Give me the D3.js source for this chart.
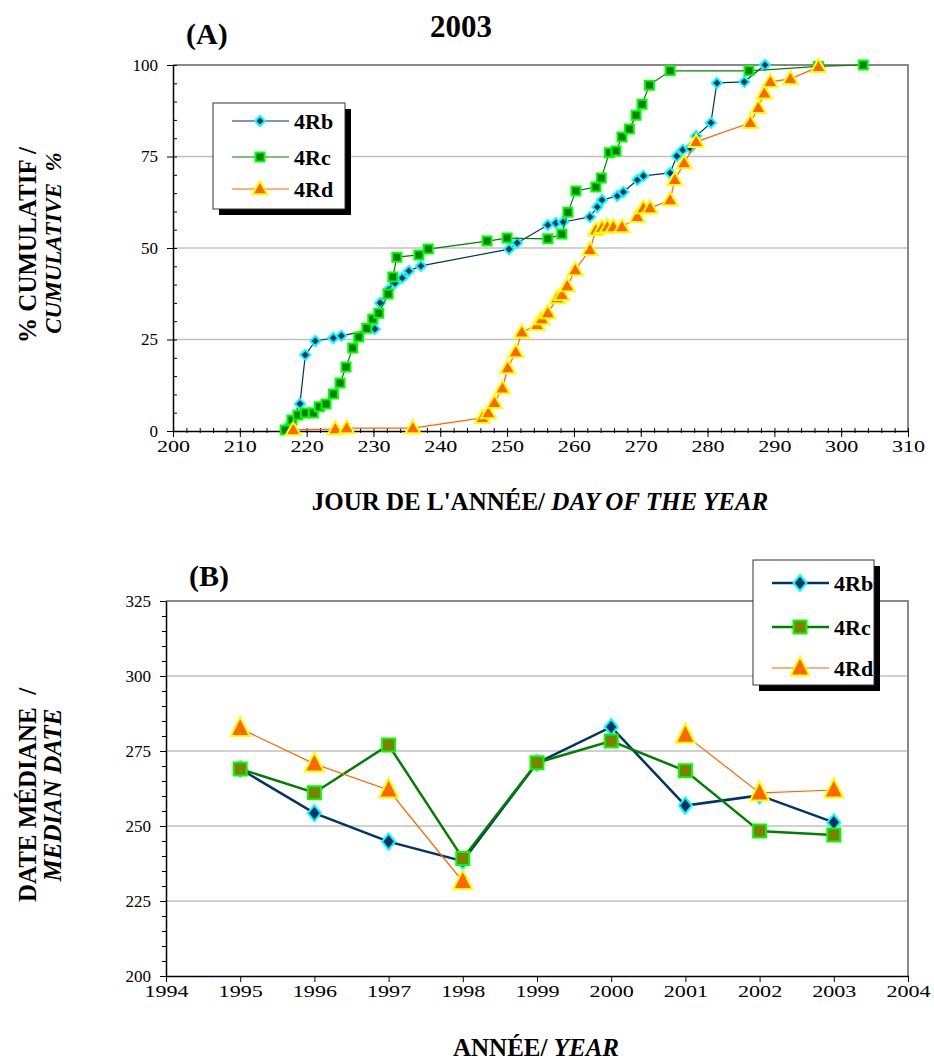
<!DOCTYPE html>
<html>
<head>
<meta charset="utf-8">
<script src="https://cdn.jsdelivr.net/npm/d3@7"></script>
<style>
  body { margin: 0; background: #fff; }
  svg text { font-family: "Liberation Serif", "Times New Roman", serif; }
</style>
</head>
<body>
<div id="chart"></div>
<script>
// panel A : cumulative % by day of year, 2003
var dayRb = [217.1, 219.0, 219.8, 221.3, 224.0, 225.2, 230.2, 231.0, 232.2, 233.2, 234.3, 235.3, 237.1,
  250.3, 251.5, 256.1, 257.3, 258.4, 262.4, 263.5, 264.2, 266.5, 267.4, 269.5, 270.4, 274.4, 275.4,
  276.3, 277.4, 278.3, 280.5, 281.4, 285.5, 288.6];
var pctRb = [1.1, 7.4, 20.8, 24.6, 25.4, 26.0, 27.9, 35.0, 38.5, 40.4, 41.8, 43.7, 45.1,
  49.7, 51.4, 56.3, 56.8, 57.1, 58.5, 61.2, 63.1, 64.2, 65.3, 68.6, 69.7, 70.5, 75.1,
  76.8, 77.3, 80.6, 84.2, 95.1, 95.4, 100];

var dayRc = [216.8, 217.8, 218.7, 219.8, 221.0, 221.9, 222.9, 224.0, 225.0, 225.9, 226.9, 227.8, 229.0,
  229.9, 230.8, 232.2, 232.9, 233.5, 236.8, 238.2, 247.0, 250.0, 256.1, 258.2, 259.1, 260.3, 263.3,
  264.1, 265.3, 266.3, 267.2, 268.3, 269.3, 270.2, 271.3, 274.4, 286.2, 296.6, 303.3];
var pctRc = [0.3, 3.0, 4.4, 4.9, 4.9, 6.6, 7.4, 10.1, 13.1, 17.5, 22.7, 25.7, 28.1,
  30.6, 32.2, 37.4, 42.1, 47.5, 48.1, 49.7, 51.9, 52.7, 52.5, 53.8, 59.8, 65.6, 66.7,
  69.1, 76.0, 76.5, 80.3, 82.5, 86.3, 89.3, 94.5, 98.4, 98.4, 99.6, 100];

var dayRd = [218.0, 224.3, 226.0, 235.9, 246.3, 247.2, 248.1, 249.3, 250.1, 251.3, 252.2, 254.5, 255.2,
  256.1, 257.5, 258.2, 259.0, 260.2, 262.4, 263.3, 264.2, 265.0, 265.9, 267.2, 269.5, 270.4, 271.4,
  274.4, 275.1, 276.5, 278.3, 286.4, 287.6, 288.5, 289.4, 292.4, 296.6];
var pctRd = [0.3, 0.5, 0.8, 0.8, 3.6, 4.9, 7.7, 11.7, 17.2, 21.6, 27.0, 29.0, 30.6,
  32.2, 36.3, 37.2, 39.6, 44.0, 49.5, 54.9, 55.5, 55.7, 55.7, 55.7, 58.5, 60.9, 60.9,
  63.1, 68.6, 73.2, 79.0, 84.2, 88.3, 92.3, 95.4, 96.2, 99.5];

var dayTicks = [200, 210, 220, 230, 240, 250, 260, 270, 280, 290, 300, 310];
var pctTicks = [0, 25, 50, 75, 100];

// panel B : median date per year
var years = [1995, 1996, 1997, 1998, 1999, 2000, 2001, 2002, 2003];
var medRb = [269, 254.3, 244.8, 238.3, 271, 283, 256.8, 260.2, 251.2];
var medRc = [269, 261.1, 277, 239.2, 271.1, 278.3, 268.4, 248.3, 247];
var medRd = [282.5, 270.7, 262, 231.5, null, null, 280.3, 261, 262];

var yearTicks = [1994, 1995, 1996, 1997, 1998, 1999, 2000, 2001, 2002, 2003, 2004];
var medTicks = [200, 225, 250, 275, 300, 325];

var seriesNames = ["4Rb", "4Rc", "4Rd"];

var serif = "'Liberation Serif', 'Times New Roman', serif";

var svg = d3.select("#chart").append("svg")
    .attr("width", 934)
    .attr("height", 1062)
    .attr("font-family", serif);

// custom diamond so width and height can differ
function diamond(w, h) {
    return {
        draw: function (ctx) {
            ctx.moveTo(0, -h); ctx.lineTo(w, 0); ctx.lineTo(0, h); ctx.lineTo(-w, 0); ctx.closePath();
        }
    };
}
function square(s) {
    return { draw: function (ctx) { ctx.rect(-s, -s, 2 * s, 2 * s); } };
}
function triangle(w, h) {
    return {
        draw: function (ctx) {
            ctx.moveTo(0, -h * 0.6); ctx.lineTo(w, h * 0.4); ctx.lineTo(-w, h * 0.4); ctx.closePath();
        }
    };
}

function drawSeries(g, xs, ys, x, y, line, mark) {
    var pts = xs.map(function (d, i) { return { x: d, y: ys[i] }; });
    var gen = d3.line()
        .defined(function (d) { return d.y != null; })
        .x(function (d) { return x(d.x); })
        .y(function (d) { return y(d.y); });
    g.append("path").datum(pts)
        .attr("fill", "none")
        .attr("stroke", line.color)
        .attr("stroke-width", line.width)
        .attr("d", gen);
    g.selectAll(null).data(pts.filter(function (d) { return d.y != null; }))
        .enter().append("path")
        .attr("transform", function (d) { return "translate(" + x(d.x) + "," + y(d.y) + ")"; })
        .attr("d", d3.symbol().type(mark.type))
        .attr("fill", mark.fill)
        .attr("stroke", mark.stroke)
        .attr("stroke-width", 2);
}

function drawLegend(g, x0, y0, w, h, rows, styles) {
    g.append("rect").attr("x", x0 + 6).attr("y", y0 + 6).attr("width", w).attr("height", h).attr("fill", "#000");
    g.append("rect").attr("x", x0).attr("y", y0).attr("width", w).attr("height", h)
        .attr("fill", "#fff").attr("stroke", "#333").attr("stroke-width", 1);
    rows.forEach(function (ry, i) {
        var s = styles[i];
        g.append("line").attr("x1", x0 + 19).attr("x2", x0 + 76).attr("y1", y0 + ry).attr("y2", y0 + ry)
            .attr("stroke", s.line.color).attr("stroke-width", s.line.width);
        g.append("path").attr("transform", "translate(" + (x0 + 47) + "," + (y0 + ry) + ")")
            .attr("d", d3.symbol().type(s.mark.type))
            .attr("fill", s.mark.fill).attr("stroke", s.mark.stroke).attr("stroke-width", 2);
        g.append("text").attr("x", x0 + 81).attr("y", y0 + ry + 8)
            .attr("font-size", 22).attr("font-weight", "bold").text(seriesNames[i]);
    });
}

function styleAxis(a, wide) {
    a.attr("font-family", serif);
    a.selectAll("text").attr("font-size", 17).attr("fill", "#000").attr("font-family", serif);
    if (wide) a.selectAll("text").attr("transform", "scale(1.3,1)");
    a.select(".domain").attr("stroke-width", 1.5);
}

// ---------------- panel A ----------------
var xA = d3.scaleLinear().domain([200, 310]).range([173, 908]);
var yA = d3.scaleLinear().domain([0, 100]).range([431, 65]);

var gA = svg.append("g");

// grid + frame
gA.selectAll(null).data([25, 50, 75]).enter().append("line")
    .attr("x1", xA(200)).attr("x2", xA(310))
    .attr("y1", function (d) { return yA(d); }).attr("y2", function (d) { return yA(d); })
    .attr("stroke", "#c0c0c0").attr("stroke-width", 1.5);
gA.append("path")
    .attr("d", "M" + xA(200) + "," + yA(100) + "H" + xA(310) + "V" + yA(0))
    .attr("fill", "none").attr("stroke", "#888").attr("stroke-width", 2);

// minor ticks
gA.append("g").attr("transform", "translate(" + xA(200) + ",0)")
    .call(d3.axisRight(yA).tickValues(d3.range(0, 101, 5)).tickSize(4).tickFormat(""))
    .call(function (g) { g.select(".domain").remove(); });
gA.append("g").attr("transform", "translate(0," + yA(0) + ")")
    .call(d3.axisBottom(xA).tickValues(d3.range(200, 311, 2)).tickSize(2).tickFormat(""))
    .call(function (g) { g.select(".domain").remove(); });
gA.append("g").attr("transform", "translate(0," + yA(0) + ")")
    .call(d3.axisTop(xA).tickValues(d3.range(200, 311, 2)).tickSize(3).tickFormat(""))
    .call(function (g) { g.select(".domain").remove(); });

// main axes
var axAx = gA.append("g").attr("transform", "translate(0," + yA(0) + ")")
    .call(d3.axisBottom(xA).tickValues(dayTicks).tickSize(6).tickSizeOuter(0).tickPadding(3));
var axAy = gA.append("g").attr("transform", "translate(" + xA(200) + ",0)")
    .call(d3.axisLeft(yA).tickValues(pctTicks).tickSize(6).tickSizeOuter(0).tickPadding(9));
styleAxis(axAx, true);
styleAxis(axAy, false);

var stylesA = [
    { line: { color: "#003366", width: 1.2 }, mark: { type: diamond(5, 5), fill: "#003366", stroke: "#00ffff" } },
    { line: { color: "#008000", width: 1.2 }, mark: { type: square(4.5), fill: "#008000", stroke: "#00ff00" } },
    { line: { color: "#ff6600", width: 1.2 }, mark: { type: triangle(7.5, 13), fill: "#ff6600", stroke: "#ffff00" } }
];
drawSeries(gA, dayRb, pctRb, xA, yA, stylesA[0].line, stylesA[0].mark);
drawSeries(gA, dayRc, pctRc, xA, yA, stylesA[1].line, stylesA[1].mark);
drawSeries(gA, dayRd, pctRd, xA, yA, stylesA[2].line, stylesA[2].mark);

drawLegend(gA, 213, 103, 132, 106, [18, 54, 86], stylesA);

svg.append("text").attr("x", 461).attr("y", 37).attr("text-anchor", "middle")
    .attr("font-size", 31).attr("font-weight", "bold").text("2003");
svg.append("text").attr("x", 186).attr("y", 44)
    .attr("font-size", 30).attr("font-weight", "bold").text("(A)");

var xlA = svg.append("text").attr("x", 540).attr("y", 510).attr("text-anchor", "middle")
    .attr("font-size", 25).attr("font-weight", "bold");
xlA.append("tspan").text("JOUR DE L'ANNÉE/ ");
xlA.append("tspan").attr("font-style", "italic").text("DAY OF THE YEAR");

var ylA = svg.append("g").attr("transform", "translate(0,245) rotate(-90)");
ylA.append("text").attr("x", 0).attr("y", 36).attr("text-anchor", "middle")
    .attr("font-size", 25).attr("font-weight", "bold").text("% CUMULATIF /");
ylA.append("text").attr("x", 2).attr("y", 61).attr("text-anchor", "middle")
    .attr("font-size", 23).attr("font-weight", "bold").attr("font-style", "italic")
    .attr("xml:space", "preserve").text("CUMULATIVE  %");

// ---------------- panel B ----------------
var xB = d3.scaleLinear().domain([1994, 2004]).range([166, 908]);
var yB = d3.scaleLinear().domain([200, 325]).range([976, 601]);

var gB = svg.append("g");

gB.selectAll(null).data([225, 250, 275, 300]).enter().append("line")
    .attr("x1", xB(1994)).attr("x2", xB(2004))
    .attr("y1", function (d) { return yB(d); }).attr("y2", function (d) { return yB(d); })
    .attr("stroke", "#c0c0c0").attr("stroke-width", 1.5);
gB.append("path")
    .attr("d", "M" + xB(1994) + "," + yB(325) + "H" + xB(2004) + "V" + yB(200))
    .attr("fill", "none").attr("stroke", "#888").attr("stroke-width", 2);

gB.append("g").attr("transform", "translate(" + xB(1994) + ",0)")
    .call(d3.axisLeft(yB).tickValues(d3.range(200, 326, 5)).tickSize(4).tickFormat(""))
    .call(function (g) { g.select(".domain").remove(); });

var axBx = gB.append("g").attr("transform", "translate(0," + yB(200) + ")")
    .call(d3.axisBottom(xB).tickValues(yearTicks).tickSize(6).tickSizeOuter(0).tickPadding(3)
        .tickFormat(d3.format("d")));
var axBy = gB.append("g").attr("transform", "translate(" + xB(1994) + ",0)")
    .call(d3.axisLeft(yB).tickValues(medTicks).tickSize(6).tickSizeOuter(0).tickPadding(9));
styleAxis(axBx, true);
styleAxis(axBy, false);

var stylesB = [
    { line: { color: "#003366", width: 2.5 }, mark: { type: diamond(6.5, 8), fill: "#003366", stroke: "#00ffff" } },
    { line: { color: "#008000", width: 2.5 }, mark: { type: square(6.5), fill: "#808000", stroke: "#00ff00" } },
    { line: { color: "#ff6600", width: 1.2 }, mark: { type: triangle(9.5, 19), fill: "#ff6600", stroke: "#ffff00" } }
];
drawSeries(gB, years, medRb, xB, yB, stylesB[0].line, stylesB[0].mark);
drawSeries(gB, years, medRc, xB, yB, stylesB[1].line, stylesB[1].mark);
drawSeries(gB, years, medRd, xB, yB, stylesB[2].line, stylesB[2].mark);

drawLegend(gB, 753, 560, 121, 125, [23, 67, 108], stylesB);

svg.append("text").attr("x", 189).attr("y", 586)
    .attr("font-size", 30).attr("font-weight", "bold").text("(B)");

var xlB = svg.append("text").attr("x", 536).attr("y", 1056).attr("text-anchor", "middle")
    .attr("font-size", 25).attr("font-weight", "bold");
xlB.append("tspan").text("ANNÉE/ ");
xlB.append("tspan").attr("font-style", "italic").text("YEAR");

var ylB = svg.append("g").attr("transform", "translate(0,795) rotate(-90)");
ylB.append("text").attr("x", 0).attr("y", 36).attr("text-anchor", "middle")
    .attr("font-size", 25).attr("font-weight", "bold")
    .attr("xml:space", "preserve").text("DATE MÉDIANE  /");
ylB.append("text").attr("x", 0).attr("y", 61).attr("text-anchor", "middle")
    .attr("font-size", 25).attr("font-weight", "bold").attr("font-style", "italic").text("MEDIAN DATE");
</script>
</body>
</html>
